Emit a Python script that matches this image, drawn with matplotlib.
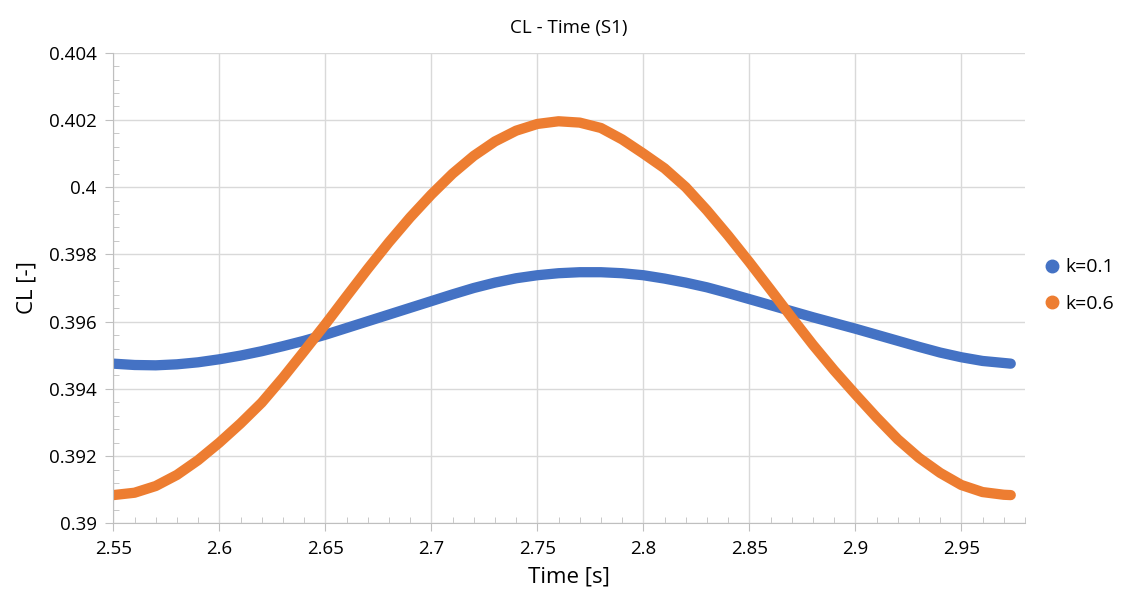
import numpy as np
import matplotlib.pyplot as plt
from matplotlib.lines import Line2D
from matplotlib.ticker import MultipleLocator

# values, every 0.01 s
time = [2.55, 2.56, 2.57, 2.58, 2.59, 2.60, 2.61, 2.62, 2.63, 2.64,
        2.65, 2.66, 2.67, 2.68, 2.69, 2.70, 2.71, 2.72, 2.73, 2.74,
        2.75, 2.76, 2.77, 2.78, 2.79, 2.80, 2.81, 2.82, 2.83, 2.84,
        2.85, 2.86, 2.87, 2.88, 2.89, 2.90, 2.91, 2.92, 2.93, 2.94,
        2.95, 2.96, 2.97, 2.9733]

cl_k01 = [0.39475, 0.39471, 0.39470, 0.39473, 0.39479, 0.39488, 0.39499, 0.39512, 0.39527, 0.39543,
          0.39561, 0.39581, 0.39601, 0.39621, 0.39641, 0.39661, 0.39681, 0.39700, 0.39716, 0.39729,
          0.39738, 0.39744, 0.39747, 0.39747, 0.39744, 0.39738, 0.39728, 0.39716, 0.39702, 0.39685,
          0.39667, 0.39649, 0.39631, 0.39613, 0.39596, 0.39579, 0.39561, 0.39543, 0.39525, 0.39508,
          0.39494, 0.39483, 0.39477, 0.39475]

cl_k06 = [0.39084, 0.39091, 0.39111, 0.39144, 0.39188, 0.39240, 0.39297, 0.39359, 0.39433, 0.39512,
          0.39592, 0.39675, 0.39757, 0.39836, 0.39910, 0.39978, 0.40040, 0.40093, 0.40136, 0.40168,
          0.40188, 0.40196, 0.40192, 0.40176, 0.40142, 0.40100, 0.40056, 0.40000, 0.39931, 0.39856,
          0.39777, 0.39695, 0.39612, 0.39531, 0.39455, 0.39384, 0.39315, 0.39250, 0.39195, 0.39150,
          0.39114, 0.39093, 0.39085, 0.39084]

labels = ["k=0.1", "k=0.6"]
colors = ["#4472C4", "#ED7D31"]

plt.rcParams['font.family'] = ['Open Sans', 'DejaVu Sans']

fig = plt.figure(figsize=(11.22, 5.92), dpi=100)
ax = fig.add_axes([0.101, 0.116, 0.8125, 0.795])

for series, c in zip([cl_k01, cl_k06], colors):
    ax.plot(time, series, color=c, lw=7.4, solid_capstyle="round", solid_joinstyle="round")

ax.set_xlim(2.55, 2.98)
ax.set_ylim(0.39, 0.404)
ax.xaxis.set_minor_locator(MultipleLocator(0.01))
ax.yaxis.set_minor_locator(MultipleLocator(0.0004))
ax.set_xticks([2.55, 2.6, 2.65, 2.7, 2.75, 2.8, 2.85, 2.9, 2.95])
ax.set_xticklabels(["2.55", "2.6", "2.65", "2.7", "2.75", "2.8", "2.85", "2.9", "2.95"])
ax.set_yticks([0.39, 0.392, 0.394, 0.396, 0.398, 0.4, 0.402, 0.404])
ax.set_yticklabels(["0.39", "0.392", "0.394", "0.396", "0.398", "0.4", "0.402", "0.404"])

ax.grid(True, which="major", color="#d9d9d9", lw=1.0)
ax.set_axisbelow(True)
for s in ["top", "right"]:
    ax.spines[s].set_visible(False)
for s in ["left", "bottom"]:
    ax.spines[s].set_color("#bfbfbf")
ax.tick_params(which="major", length=6, color="#bfbfbf", labelsize=13.5, pad=6)
ax.tick_params(which="minor", direction="in", length=4, color="#bfbfbf")

ax.set_title("CL - Time (S1)", fontsize=13.5, pad=14)
ax.set_xlabel("Time [s]", fontsize=16, labelpad=6)
ax.set_ylabel("CL [-]", fontsize=16, labelpad=8)

handles = [Line2D([], [], ls="none", marker="o", ms=9, color=c) for c in colors]
ax.legend(handles, labels, loc="center left", bbox_to_anchor=(1.0, 0.505), frameon=False,
          fontsize=14, handletextpad=0.2, labelspacing=0.95, handlelength=1.0)

fig.savefig("out.png", dpi=100)
